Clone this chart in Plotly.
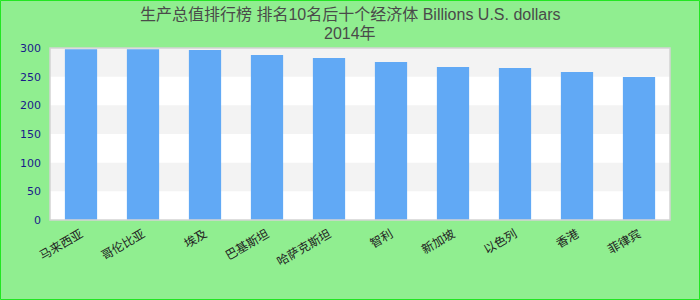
import plotly.graph_objects as go

categories = ["马来西亚", "哥伦比亚", "埃及", "巴基斯坦", "哈萨克斯坦", "智利", "新加坡", "以色列", "香港", "菲律宾"]
values = [298, 298, 296.5, 288, 282.5, 275.5, 267, 265, 258, 249.5]
y_ticks = [0, 50, 100, 150, 200, 250, 300]
title_line1 = "生产总值排行榜 排名10名后十个经济体 Billions U.S. dollars"
title_line2 = "2014年"

W, H = 700, 300
ml, mr, mt, mb = 50, 30, 48, 80
pw, ph = W - ml - mr, H - mt - mb

fig = go.Figure()
fig.add_trace(go.Bar(x=categories, y=values, marker=dict(color="#61a9f5", line=dict(width=0))))

shapes = []
for i in range(len(y_ticks) - 1):
    if i % 2 == 1:
        shapes.append(dict(type="rect", xref="paper", yref="y", x0=0, x1=1,
                           y0=y_ticks[i], y1=y_ticks[i + 1],
                           fillcolor="#f3f3f3", line=dict(width=0), layer="below"))
shapes.append(dict(type="rect", xref="paper", yref="paper", x0=0, x1=1, y0=0, y1=1,
                   line=dict(color="#d3d3d3", width=1.5), fillcolor="rgba(0,0,0,0)"))
shapes.append(dict(type="rect", xref="paper", yref="paper",
                   x0=-(ml - 0.5) / pw, x1=1 + (mr - 0.5) / pw,
                   y0=-(mb - 0.5) / ph, y1=1 + (mt - 0.5) / ph,
                   line=dict(color="#22e622", width=1), fillcolor="rgba(0,0,0,0)"))

title_font = dict(family="Liberation Sans, Arial, Noto Sans CJK SC", size=16, color="#4a4a4a")
xc = 0.5 + (350 - ml - pw / 2) / pw
annotations = [
    dict(text=title_line1, xref="paper", yref="paper", x=xc,
         y=1 + (mt - 14) / ph, xanchor="center", yanchor="middle", showarrow=False, font=title_font),
    dict(text=title_line2, xref="paper", yref="paper", x=xc,
         y=1 + (mt - 33) / ph, xanchor="center", yanchor="middle", showarrow=False, font=title_font),
]

fig.update_layout(
    width=W, height=H,
    margin=dict(l=ml, r=mr, t=mt, b=mb, pad=0),
    paper_bgcolor="#90ee90",
    plot_bgcolor="#ffffff",
    bargap=0.48,
    showlegend=False,
    shapes=shapes,
    annotations=annotations,
    xaxis=dict(tickangle=-30, showgrid=False, zeroline=False, showline=False, ticks="",
               ticklabelstandoff=4,
               tickfont=dict(family="DejaVu Sans, Noto Sans CJK SC", size=12, color="#222222")),
    yaxis=dict(range=[0, 300], tickvals=y_ticks, showgrid=False, zeroline=False, showline=False,
               ticks="", ticklabelstandoff=8,
               tickfont=dict(family="DejaVu Sans", size=11, color="#1a1a8a")),
)

fig.write_html("out.html")
